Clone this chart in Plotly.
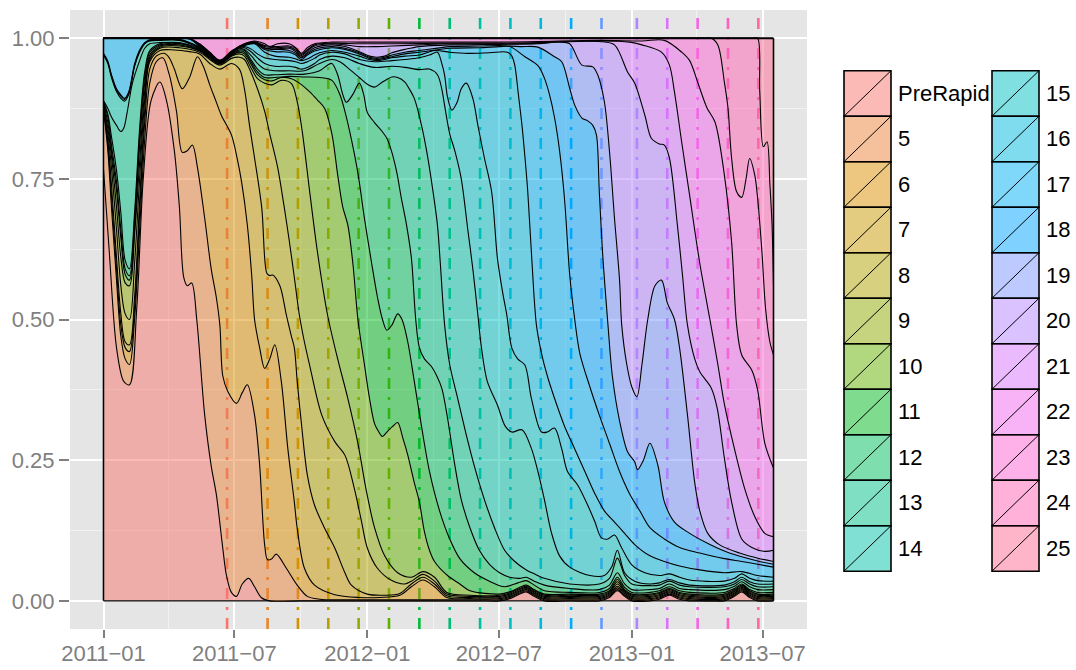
import numpy as np
import pandas as pd
import plotly.graph_objects as go

START = pd.Timestamp("2011-01-01")
LAST_DAY = 927  # last day covered by the density estimate

versions = ["PreRapid", "5", "6", "7", "8", "9", "10", "11", "12", "13", "14", "15",
            "16", "17", "18", "19", "20", "21", "22", "23", "24", "25"]

release_versions = ["5", "6", "7", "8", "9", "10", "11", "12", "13", "14", "15", "16",
                    "17", "18", "19", "20", "21", "22"]
release_dates = ["2011-06-21", "2011-08-16", "2011-09-27", "2011-11-08", "2011-12-20",
                 "2012-01-31", "2012-03-13", "2012-04-24", "2012-06-05", "2012-07-17",
                 "2012-08-28", "2012-10-09", "2012-11-20", "2013-01-08", "2013-02-19",
                 "2013-04-02", "2013-05-14", "2013-06-25"]

x_tick_dates = ["2011-01-01", "2011-07-01", "2012-01-01", "2012-07-01", "2013-01-01", "2013-07-01"]
x_tick_labels = ["2011\u221201", "2011\u221207", "2012\u221201", "2012\u221207", "2013\u221201", "2013\u221207"]
x_minor_dates = ["2011-04-01", "2011-10-01", "2012-04-01", "2012-10-01", "2013-04-01"]
y_tick_values = [0.0, 0.25, 0.5, 0.75, 1.0]
y_tick_labels = ["0.00", "0.25", "0.50", "0.75", "1.00"]

# Cumulative share of sessions on each version or older:
# (days since 2011-01-01, share)
cum_pre = [(0, .767), (8, .62), (18, .45), (28, .39), (36, .384), (46, .52), (55, .75), (66, .89),
           (78, .922), (87, .89), (98, .80), (105, .70), (111, .575), (116, .56), (122, .565),
           (129, .50), (140, .33), (149, .24), (156, .19), (165, .094), (170, .046), (177, .015),
           (184, .008), (192, .03), (201, .04), (209, .025), (219, .005), (230, 0), (271, 0),
           (327, 0), (396, 0), (465, 0), (520, 0), (548, 0), (562, .004), (576, .012), (585, .016),
           (596, .008), (610, 0), (645, 0), (686, 0), (700, .006), (711, .018), (721, .008),
           (731, 0), (756, 0), (769, .003), (783, .01), (797, .003), (811, 0), (839, 0), (859, 0),
           (873, .008), (883, .016), (894, .006), (905, 0), (927, 0)]
cum_5 = [(0, .872), (6, .80), (11, .70), (18, .57), (24, .47), (30, .43), (36, .42), (43, .50),
         (50, .66), (57, .82), (64, .92), (73, .958), (82, .965), (91, .935), (101, .87),
         (109, .797), (116, .80), (123, .81), (130, .77), (140, .68), (149, .59), (156, .54),
         (161, .49), (165, .40), (172, .372), (184, .351), (192, .37), (199, .384), (209, .33),
         (216, .242), (223, .099), (227, .073), (233, .075), (239, .083), (253, .058), (268, .028),
         (282, .008), (299, .003), (327, .002), (396, .002), (465, .002), (520, .002), (548, .002),
         (562, .006), (576, .014), (585, .018), (596, .01), (610, .002), (645, .002), (686, .002),
         (700, .008), (711, .02), (721, .01), (731, .002), (756, .002), (769, .005), (783, .012),
         (797, .005), (811, .002), (859, .002), (873, .01), (883, .018), (894, .008), (905, .002),
         (927, .002)]
cum_6 = [(0, .875), (6, .81), (11, .72), (18, .59), (24, .49), (30, .45), (36, .443), (43, .52),
         (50, .69), (57, .85), (64, .945), (73, .968), (84, .973), (91, .965), (98, .945),
         (109, .91), (119, .93), (130, .967), (138, .95), (147, .917), (155, .89), (163, .863),
         (177, .828), (185, .786), (191, .745), (199, .668), (205, .579), (209, .5), (216, .45),
         (223, .413), (230, .43), (237, .455), (246, .39), (255, .271), (264, .176), (268, .129),
         (278, .058), (292, .028), (320, .011), (354, .006), (382, .006), (410, .01), (426, .025),
         (442, .037), (458, .025), (475, .006), (507, .004), (548, .004), (562, .008), (576, .016),
         (585, .02), (596, .012), (610, .004), (645, .004), (686, .004), (700, .01), (711, .023),
         (721, .012), (731, .004), (756, .004), (769, .007), (783, .014), (797, .007), (811, .004),
         (859, .004), (873, .012), (883, .02), (894, .01), (905, .004), (927, .004)]
cum_7 = [(0, .877), (6, .82), (11, .74), (18, .61), (24, .51), (30, .46), (36, .455), (43, .54),
         (50, .71), (57, .87), (64, .958), (78, .978), (98, .979), (119, .976), (133, .972),
         (147, .955), (161, .945), (177, .955), (188, .945), (195, .91), (202, .845), (209, .787),
         (219, .698), (226, .582), (230, .578), (234, .579), (244, .56), (253, .508), (260, .47),
         (264, .45), (268, .39), (274, .313), (282, .224), (292, .17), (306, .129), (320, .094),
         (334, .05), (343, .028), (365, .012), (389, .01), (410, .013), (426, .03), (442, .042),
         (458, .03), (475, .009), (507, .006), (548, .006), (562, .01), (576, .018), (585, .022),
         (596, .014), (610, .006), (645, .006), (686, .006), (700, .012), (711, .026), (721, .014),
         (731, .006), (756, .006), (769, .009), (783, .016), (797, .009), (811, .006), (859, .006),
         (873, .014), (883, .022), (894, .012), (905, .006), (927, .006)]
cum_8 = [(0, .879), (6, .83), (11, .77), (18, .66), (24, .56), (30, .51), (36, .50), (43, .60),
         (50, .75), (57, .89), (64, .962), (78, .982), (105, .983), (133, .975), (147, .962),
         (161, .952), (177, .964), (188, .966), (195, .962), (202, .945), (213, .91), (223, .87),
         (230, .83), (241, .77), (250, .70), (257, .64), (264, .575), (271, .508), (278, .46),
         (285, .42), (302, .33), (320, .283), (334, .259), (347, .2), (357, .141), (365, .094),
         (379, .058), (399, .036), (417, .03), (426, .035), (442, .047), (458, .035), (475, .012),
         (507, .008), (548, .008), (562, .012), (576, .02), (585, .024), (596, .016), (610, .008),
         (645, .008), (686, .008), (700, .014), (711, .03), (721, .016), (731, .008), (756, .008),
         (769, .011), (783, .018), (797, .011), (811, .008), (859, .008), (873, .016), (883, .024),
         (894, .014), (905, .008), (927, .008)]
cum_9 = [(0, .881), (6, .84), (11, .79), (18, .70), (24, .61), (30, .565), (36, .56), (43, .65),
         (50, .78), (57, .905), (64, .966), (78, .984), (105, .986), (133, .977), (147, .964),
         (161, .954), (177, .968), (188, .972), (195, .968), (205, .945), (213, .928), (223, .92),
         (233, .917), (246, .925), (260, .919), (268, .887), (275, .834), (285, .73), (296, .62),
         (310, .508), (324, .43), (338, .36), (352, .28), (363, .2), (375, .13), (389, .08),
         (407, .05), (426, .042), (442, .052), (458, .042), (475, .015), (507, .01), (548, .01),
         (562, .014), (576, .022), (585, .026), (596, .018), (610, .01), (645, .01), (686, .01),
         (700, .016), (711, .034), (721, .018), (731, .01), (756, .01), (769, .013), (783, .02),
         (797, .013), (811, .01), (859, .01), (873, .018), (883, .026), (894, .016), (905, .01),
         (927, .01)]
cum_10 = [(0, .883), (6, .85), (11, .8), (18, .73), (24, .645), (30, .58), (36, .57), (43, .66),
          (50, .81), (57, .92), (64, .97), (78, .986), (105, .988), (133, .978), (147, .966),
          (161, .9545), (177, .969), (188, .975), (195, .972), (205, .952), (213, .935),
          (223, .926), (233, .924), (246, .93), (260, .928), (271, .92), (285, .905), (296, .89),
          (306, .875), (316, .83), (324, .757), (331, .70), (338, .668), (345, .6), (352, .5),
          (361, .42), (368, .36), (375, .315), (381, .3), (386, .292), (392, .30), (400, .31),
          (407, .317), (414, .29), (421, .259), (430, .21), (437, .176), (444, .123), (451, .09),
          (458, .07), (476, .045), (493, .03), (507, .018), (548, .012), (562, .016), (576, .024),
          (585, .028), (596, .02), (610, .012), (645, .012), (686, .012), (700, .018), (711, .038),
          (721, .02), (731, .012), (756, .012), (769, .015), (783, .022), (797, .015), (811, .012),
          (859, .012), (873, .02), (883, .028), (894, .018), (905, .012), (927, .012)]
cum_11 = [(0, .885), (6, .86), (11, .81), (18, .745), (24, .66), (30, .59), (36, .578), (43, .68),
          (50, .825), (57, .932), (64, .975), (78, .988), (105, .99), (133, .979), (147, .967),
          (161, .955), (177, .97), (188, .977), (195, .975), (205, .956), (213, .94), (223, .93),
          (237, .93), (257, .932), (278, .931), (299, .93), (316, .925), (327, .90), (334, .87),
          (343, .82), (352, .76), (361, .68), (371, .6), (379, .54), (386, .5), (392, .481),
          (399, .49), (407, .51), (413, .5), (421, .46), (430, .39), (440, .31), (451, .23),
          (465, .16), (479, .11), (493, .075), (513, .05), (534, .035), (555, .025), (569, .03),
          (576, .033), (585, .036), (596, .028), (610, .018), (645, .015), (686, .015), (700, .022),
          (711, .042), (721, .024), (731, .015), (756, .015), (769, .018), (783, .025), (797, .018),
          (811, .015), (859, .015), (873, .022), (883, .03), (894, .02), (905, .015), (927, .015)]
cum_12 = [(0, .887), (6, .865), (11, .825), (18, .765), (24, .69), (30, .605), (36, .59), (43, .69),
          (50, .84), (57, .94), (64, .978), (78, .99), (105, .991), (133, .98), (147, .968),
          (161, .9555), (177, .971), (188, .979), (195, .978), (205, .96), (213, .945), (223, .935),
          (237, .935), (257, .936), (278, .936), (299, .942), (310, .952), (316, .955), (324, .935),
          (331, .9), (336, .886), (345, .9), (354, .92), (360, .9), (365, .868), (375, .85),
          (385, .835), (392, .822), (399, .797), (406, .76), (412, .716), (419, .67), (426, .609),
          (432, .5), (437, .45), (444, .43), (454, .416), (461, .40), (468, .378), (476, .325),
          (486, .242), (495, .18), (507, .13), (520, .09), (534, .065), (548, .05), (562, .042),
          (576, .04), (585, .042), (596, .035), (610, .028), (645, .022), (686, .02), (700, .028),
          (711, .05), (721, .03), (731, .02), (756, .02), (769, .022), (783, .03), (797, .022),
          (811, .02), (859, .02), (873, .026), (883, .034), (894, .025), (905, .02), (927, .02)]
cum_13 = [(0, .889), (6, .875), (11, .86), (18, .845), (24, .834), (28, .84), (33, .87), (40, .92),
          (50, .96), (57, .982), (64, .99), (78, .992), (105, .992), (133, .981), (147, .969),
          (161, .956), (177, .972), (188, .981), (195, .98), (205, .968), (213, .955), (223, .945),
          (237, .942), (257, .942), (278, .942), (299, .955), (316, .962), (327, .958), (340, .945),
          (354, .93), (365, .918), (375, .913), (386, .922), (399, .931), (407, .93), (417, .922),
          (423, .91), (430, .893), (440, .845), (447, .80), (454, .744), (462, .668), (466, .6),
          (472, .49), (479, .42), (490, .36), (501, .3), (513, .24), (527, .18), (541, .13),
          (555, .09), (569, .07), (585, .055), (596, .048), (610, .04), (645, .03), (686, .03),
          (700, .04), (711, .076), (721, .045), (731, .03), (756, .027), (769, .028), (783, .035),
          (797, .028), (811, .025), (859, .025), (873, .03), (883, .038), (894, .03), (905, .025),
          (927, .025)]
cum_14 = [(0, .970), (6, .955), (11, .93), (18, .905), (24, .893), (29, .888), (35, .9), (43, .95),
          (50, .975), (57, .99), (64, .995), (78, .996), (105, .996), (133, .982), (147, .97),
          (161, .9565), (177, .9725), (188, .983), (195, .983), (205, .975), (213, .965),
          (223, .955), (237, .95), (257, .95), (266, .948), (274, .945), (282, .948), (292, .955),
          (299, .962), (316, .968), (334, .965), (354, .955), (375, .948), (399, .95), (417, .948),
          (437, .944), (451, .945), (462, .935), (468, .91), (472, .88), (479, .83), (486, .80),
          (495, .75), (504, .66), (511, .59), (518, .508), (523, .449), (531, .39), (545, .348),
          (556, .31), (565, .3), (579, .304), (592, .271), (601, .23), (610, .18), (620, .12),
          (631, .08), (645, .06), (673, .045), (693, .045), (703, .06), (711, .09), (721, .05),
          (735, .035), (756, .03), (769, .032), (783, .038), (797, .032), (811, .028), (859, .028),
          (873, .034), (883, .042), (894, .034), (905, .03), (927, .03)]
cum_15 = [(0, .971), (6, .957), (11, .933), (18, .908), (24, .897), (29, .891), (35, .903),
          (43, .952), (50, .977), (57, .991), (64, .996), (78, .997), (105, .997), (133, .983),
          (147, .971), (161, .957), (177, .973), (188, .985), (195, .985), (205, .98), (213, .972),
          (223, .965), (237, .962), (257, .96), (266, .958), (274, .955), (282, .958), (292, .964),
          (299, .97), (316, .975), (334, .972), (354, .962), (375, .958), (399, .96), (417, .962),
          (437, .965), (451, .97), (462, .975), (468, .955), (472, .934), (476, .895), (482, .872),
          (489, .885), (495, .91), (502, .92), (511, .893), (518, .845), (527, .787), (537, .727),
          (545, .609), (552, .55), (558, .508), (565, .449), (573, .43), (583, .419), (592, .36),
          (606, .30), (614, .30), (624, .307), (634, .27), (642, .23), (656, .206), (670, .17),
          (680, .14), (689, .112), (698, .11), (707, .117), (717, .094), (731, .064), (749, .05),
          (769, .045), (783, .048), (797, .042), (811, .037), (859, .035), (873, .04), (883, .048),
          (894, .04), (905, .036), (927, .035)]
cum_16 = [(0, .973), (6, .959), (11, .935), (18, .91), (24, .899), (29, .893), (35, .905),
          (43, .954), (50, .979), (57, .992), (64, .997), (78, .998), (105, .998), (133, .984),
          (147, .972), (161, .9575), (177, .9735), (188, .986), (195, .987), (209, .99),
          (223, .975), (237, .968), (257, .966), (266, .963), (274, .96), (282, .963), (292, .97),
          (299, .974), (316, .978), (334, .975), (354, .968), (368, .962), (378, .96), (389, .962),
          (399, .965), (417, .968), (437, .97), (458, .978), (479, .975), (504, .973), (534, .974),
          (559, .975), (565, .968), (569, .952), (574, .9), (579, .845), (583, .79), (587, .727),
          (592, .62), (599, .49), (606, .44), (614, .40), (624, .36), (638, .31), (652, .27),
          (666, .23), (680, .19), (693, .16), (707, .14), (721, .12), (735, .1), (756, .08),
          (776, .07), (797, .062), (825, .055), (859, .05), (883, .052), (905, .045), (927, .042)]
cum_17 = [(0, 1), (40, 1), (78, .9985), (119, .9985), (133, .985), (147, .9725), (161, .958),
          (177, .974), (195, .988), (209, .991), (223, .98), (237, .976), (257, .975), (266, .97),
          (274, .962), (282, .97), (292, .977), (316, .983), (334, .98), (354, .972), (368, .964),
          (378, .962), (389, .964), (399, .967), (417, .972), (437, .975), (479, .982), (520, .983),
          (548, .985), (562, .985), (583, .967), (601, .951), (610, .929), (617, .9), (624, .859),
          (631, .8), (638, .712), (645, .58), (652, .5), (659, .44), (673, .38), (686, .33),
          (700, .28), (714, .23), (728, .19), (742, .16), (756, .13), (776, .11), (797, .095),
          (825, .085), (859, .075), (883, .07), (905, .065), (927, .06)]
cum_18 = [(0, 1), (40, 1), (78, .999), (119, .999), (133, .986), (147, .973), (161, .9585),
          (177, .9743), (195, .9885), (209, .992), (223, .982), (233, .98), (244, .98), (257, .978),
          (266, .973), (274, .965), (282, .972), (292, .98), (316, .985), (334, .982), (354, .974),
          (368, .966), (378, .964), (389, .966), (399, .97), (417, .975), (437, .978), (479, .985),
          (520, .986), (548, .987), (576, .985), (601, .984), (624, .967), (634, .958), (645, .911),
          (652, .881), (662, .858), (670, .853), (677, .845), (682, .828), (686, .727), (691, .609),
          (698, .49), (704, .40), (714, .32), (725, .265), (735, .247), (739, .233), (747, .25),
          (756, .28), (767, .241), (776, .176), (790, .14), (811, .12), (839, .1), (866, .085),
          (908, .07), (927, .065)]
cum_19 = [(0, 1), (40, 1), (78, .9993), (119, .9993), (133, .987), (147, .9735), (161, .959),
          (177, .9746), (195, .989), (209, .9925), (223, .983), (237, .981), (257, .982),
          (266, .976), (274, .967), (282, .974), (292, .983), (316, .988), (334, .985), (354, .976),
          (368, .968), (378, .966), (389, .968), (399, .974), (417, .98), (437, .985), (479, .988),
          (548, .989), (601, .99), (631, .993), (645, .99), (662, .952), (677, .949), (684, .934),
          (693, .887), (700, .8), (707, .68), (714, .57), (717, .49), (724, .42), (731, .38),
          (738, .363), (745, .42), (753, .5), (763, .56), (772, .57), (780, .53), (790, .5),
          (797, .45), (808, .33), (818, .21), (825, .16), (836, .12), (852, .1), (880, .085),
          (908, .075), (927, .07)]
cum_20 = [(0, 1), (40, 1), (78, .9995), (119, .9995), (133, .988), (147, .974), (161, .9595),
          (177, .975), (195, .9895), (209, .993), (223, .985), (237, .983), (257, .984),
          (266, .979), (274, .969), (282, .977), (292, .986), (316, .99), (334, .988), (354, .985),
          (378, .985), (399, .986), (437, .988), (479, .99), (548, .99), (601, .991), (631, .994),
          (686, .994), (707, .988), (725, .94), (735, .92), (749, .863), (758, .822), (769, .812),
          (776, .81), (783, .787), (794, .668), (801, .58), (808, .49), (818, .43), (825, .407),
          (841, .378), (849, .343), (859, .254), (869, .176), (883, .11), (897, .095), (915, .088),
          (927, .09)]
cum_21 = [(0, 1), (40, 1), (78, .9997), (119, .9997), (133, .989), (147, .9745), (161, .96),
          (177, .9753), (195, .9898), (209, .9935), (223, .987), (237, .985), (257, .986),
          (266, .982), (274, .971), (282, .979), (292, .988), (316, .991), (354, .99), (399, .99),
          (479, .991), (548, .991), (601, .992), (686, .995), (728, .993), (745, .988), (772, .975),
          (783, .952), (790, .904), (800, .815), (811, .72), (825, .6), (839, .5), (850, .42),
          (859, .35), (873, .27), (887, .2), (901, .15), (915, .12), (927, .114)]
cum_22 = [(0, 1), (40, 1), (78, 1), (119, .999), (133, .99), (147, .975), (161, .961), (177, .977),
          (195, .99), (209, .995), (223, .99), (230, .985), (241, .99), (257, .99), (266, .983),
          (274, .973), (282, .983), (292, .99), (316, .993), (354, .993), (399, .993), (479, .993),
          (548, .993), (601, .994), (686, .996), (745, .995), (776, .996), (800, .975), (811, .96),
          (822, .922), (835, .876), (846, .851), (859, .757), (869, .638), (876, .49), (883, .437),
          (897, .41), (905, .375), (915, .28), (927, .236)]
cum_23 = [(0, 1), (200, 1), (400, 1), (600, 1), (700, 1), (780, 1), (810, 1), (830, 1), (841, 1),
          (850, .988), (859, .922), (864, .876), (869, .787), (876, .727), (883, .717), (889, .75),
          (894, .786), (901, .757), (905, .716), (911, .62), (916, .52), (922, .46), (927, .437)]
cum_24 = [(0, 1), (300, 1), (600, 1), (800, 1), (860, 1), (885, 1), (898, 1), (905, 1),
          (908, .905), (913, .807), (918, .816), (922, .74), (925, .668), (927, .56)]

boundaries = [cum_pre, cum_5, cum_6, cum_7, cum_8, cum_9, cum_10, cum_11, cum_12, cum_13,
              cum_14, cum_15, cum_16, cum_17, cum_18, cum_19, cum_20, cum_21, cum_22, cum_23,
              cum_24]


def hue_palette(n, c=100.0, l=65.0):
    """Evenly spaced HCL hues, as used by ggplot2's default discrete scale."""
    hues = 15 + 360 * np.arange(n) / n
    xn, yn, zn = 0.95047, 1.0, 1.08883
    un = 4 * xn / (xn + 15 * yn + 3 * zn)
    vn = 9 * yn / (xn + 15 * yn + 3 * zn)
    out = []
    for h in hues:
        hr = np.radians(h)
        u_, v_ = c * np.cos(hr), c * np.sin(hr)
        y = yn * ((l + 16) / 116) ** 3
        u = u_ / (13 * l) + un
        v = v_ / (13 * l) + vn
        x = y * 9 * u / (4 * v)
        z = y * (12 - 3 * u - 20 * v) / (4 * v)
        rgb_lin = np.array([
            3.240479 * x - 1.537150 * y - 0.498535 * z,
            -0.969256 * x + 1.875992 * y + 0.041556 * z,
            0.055648 * x - 0.204043 * y + 1.057311 * z,
        ])
        rgb = np.where(rgb_lin > 0.0031308, 1.055 * np.abs(rgb_lin) ** (1 / 2.4) - 0.055,
                       12.92 * rgb_lin)
        rgb = np.clip(np.round(rgb * 255), 0, 255).astype(int)
        out.append(tuple(rgb))
    return out


fill_rgb = hue_palette(len(versions))
line_rgb = hue_palette(len(release_versions))


def rgba(rgb, a):
    return f"rgba({rgb[0]},{rgb[1]},{rgb[2]},{a})"


def to_dates(days):
    return [START + pd.Timedelta(days=float(d)) for d in days]


fig = go.Figure()

# release markers, underneath the translucent densities
for ver, day, rgb in zip(release_versions, release_dates, line_rgb):
    fig.add_trace(go.Scatter(
        x=[pd.Timestamp(day), pd.Timestamp(day)], y=[-0.05, 1.05], mode="lines",
        line=dict(color=rgba(rgb, 1), width=2.6, dash="11px,8px,3px,8px"),
        hoverinfo="skip", showlegend=False))

# stacked, normalised densities
end_date = START + pd.Timedelta(days=LAST_DAY)
fig.add_trace(go.Scatter(x=[START, end_date], y=[0, 0], mode="lines",
                         line=dict(color="black", width=1.1), showlegend=False))
for ver, pts, rgb in zip(versions[:-1], boundaries, fill_rgb[:-1]):
    days = [p[0] for p in pts]
    share = [p[1] for p in pts]
    fig.add_trace(go.Scatter(
        x=to_dates(days), y=share, mode="lines", name=ver,
        line=dict(color="black", width=1.1, shape="spline", smoothing=0.9),
        fill="tonexty", fillcolor=rgba(rgb, 0.5), showlegend=False))
fig.add_trace(go.Scatter(x=[START, end_date], y=[1, 1], mode="lines", name=versions[-1],
                         line=dict(color="black", width=2.0), fill="tonexty",
                         fillcolor=rgba(fill_rgb[-1], 0.5), showlegend=False))
# outer edges of the density polygons
for d in (START, end_date):
    fig.add_trace(go.Scatter(x=[d, d], y=[0, 1], mode="lines",
                             line=dict(color="black", width=1.6), showlegend=False))

# panel geometry (pixels)
PL, PR, PT, PB = 70, 807, 10, 629
W, H = 1076, 670
pad = pd.Timedelta(days=LAST_DAY * 0.05)

fig.update_layout(
    width=W, height=H,
    margin=dict(l=PL, r=W - PR, t=PT, b=H - PB, pad=0, autoexpand=False),
    plot_bgcolor="#E5E5E5", paper_bgcolor="white",
    showlegend=False,
    font=dict(family="Liberation Sans, Arial, sans-serif", size=22, color="#7F7F7F"),
)
fig.update_xaxes(
    type="date", range=[START - pad, end_date + pad], automargin=False,
    tickmode="array", tickvals=[pd.Timestamp(t) for t in x_tick_dates], ticktext=x_tick_labels,
    ticks="outside", ticklen=8, tickwidth=2.4, tickcolor="#7F7F7F", ticklabelstandoff=-3,
    showgrid=True, gridcolor="white", gridwidth=2, zeroline=False, showline=False,
    minor=dict(tickmode="array", tickvals=[pd.Timestamp(t) for t in x_minor_dates],
               showgrid=True, gridcolor="#F2F2F2", gridwidth=1, ticks=""),
    fixedrange=True,
)
fig.update_yaxes(
    range=[-0.05, 1.05], automargin=False,
    tickmode="array", tickvals=y_tick_values, ticktext=y_tick_labels,
    ticks="outside", ticklen=10, tickwidth=2.4, tickcolor="#7F7F7F",
    showgrid=True, gridcolor="white", gridwidth=2, zeroline=False, showline=False,
    minor=dict(tickmode="array", tickvals=[0.125, 0.375, 0.625, 0.875],
               showgrid=True, gridcolor="#F2F2F2", gridwidth=1, ticks=""),
    fixedrange=True,
)


# hand-built two-column legend to the right of the panel
def px_x(px):
    return (px - PL) / (PR - PL)


def px_y(py):
    return (PB - py) / (PB - PT)


key_w, key_h = 47, 45.5
col_x = [844, 992]
top_y = 70.7
rows = 11
shapes, annotations = [], []
for i, (ver, rgb) in enumerate(zip(versions, fill_rgb)):
    col, row = divmod(i, rows)
    x0 = col_x[col]
    x1 = x0 + key_w
    y0 = top_y + row * key_h
    y1 = y0 + key_h
    shapes.append(dict(type="rect", xref="paper", yref="paper",
                       x0=px_x(x0), x1=px_x(x1), y0=px_y(y1), y1=px_y(y0),
                       fillcolor=rgba(rgb, 0.5), line=dict(color="black", width=1.6)))
    shapes.append(dict(type="line", xref="paper", yref="paper",
                       x0=px_x(x0), x1=px_x(x1), y0=px_y(y1), y1=px_y(y0),
                       line=dict(color="black", width=1)))
    annotations.append(dict(xref="paper", yref="paper", x=px_x(x1 + 5), y=px_y((y0 + y1) / 2),
                            text=ver, showarrow=False, xanchor="left", yanchor="middle",
                            font=dict(size=22, color="black")))
fig.update_layout(shapes=shapes, annotations=annotations)

fig.write_html("out.html")
